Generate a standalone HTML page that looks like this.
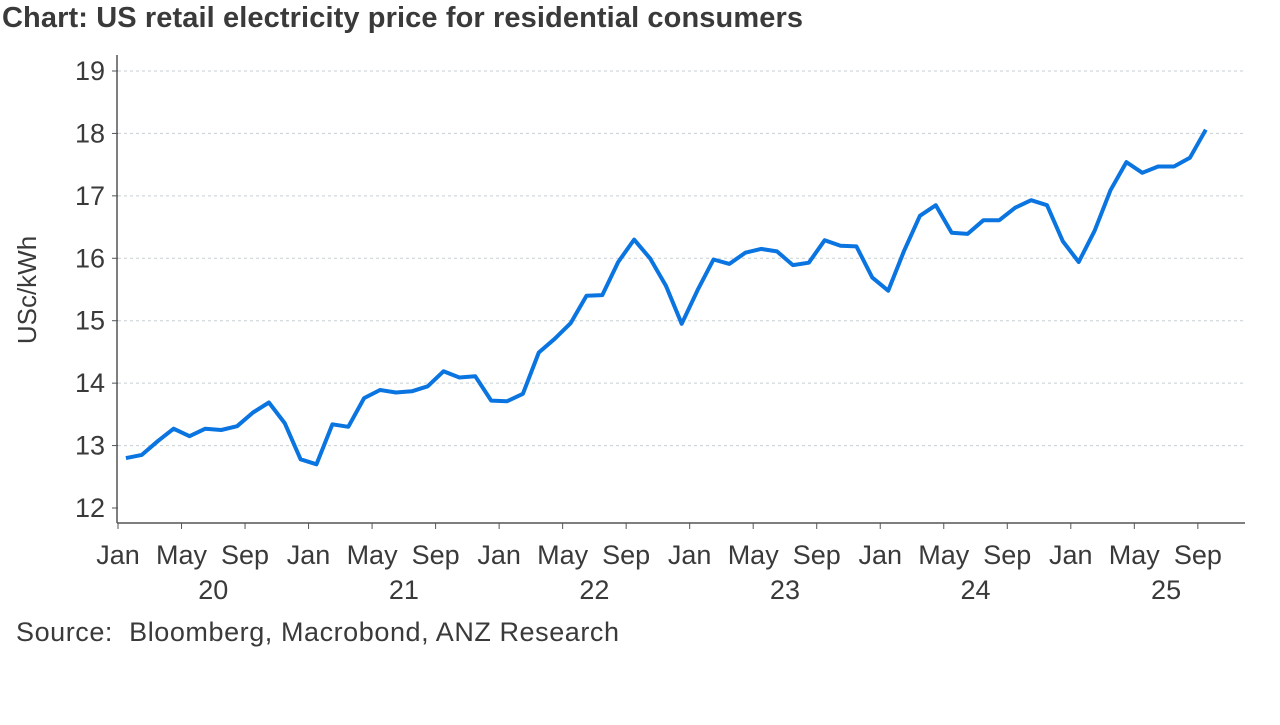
<!DOCTYPE html>
<html><head><meta charset="utf-8"><style>
body{margin:0;background:#fff;width:1280px;height:720px;overflow:hidden;font-family:"Liberation Sans",Arial,sans-serif}
</style></head><body>
<svg width="1280" height="720">
<text x="2" y="27" font-size="29" font-weight="bold" fill="#3a3a3a" textLength="801">Chart: US retail electricity price for residential consumers</text>
<g id="grid"></g><g id="axes"></g><g id="series"></g>
<text transform="translate(36,290) rotate(-90)" text-anchor="middle" font-size="26" fill="#3a3a3a">USc/kWh</text>
<text x="16" y="641" font-size="27" fill="#3a3a3a" textLength="603" style="white-space:pre">Source:  Bloomberg, Macrobond, ANZ Research</text>
</svg>
<script>
const years=["20","21","22","23","24","25"];
const monthLabels=["Jan","May","Sep"];
const yTicks=[12,13,14,15,16,17,18,19];
const values2020=[12.80,12.85,13.07,13.27,13.15,13.27,13.25,13.31,13.53,13.69,13.36,12.78];
const values2021=[12.70,13.34,13.30,13.76,13.89,13.85,13.87,13.95,14.19,14.09,14.11,13.72];
const values2022=[13.71,13.83,14.49,14.71,14.96,15.40,15.41,15.94,16.30,16.00,15.56,14.95];
const values2023=[15.49,15.98,15.91,16.09,16.15,16.11,15.89,15.93,16.29,16.20,16.19,15.69];
const values2024=[15.48,16.12,16.68,16.85,16.41,16.39,16.61,16.61,16.81,16.93,16.85,16.27];
const values2025=[15.94,16.44,17.09,17.54,17.37,17.47,17.47,17.61,18.06];
const values=[].concat(values2020,values2021,values2022,values2023,values2024,values2025);
const NS="http://www.w3.org/2000/svg";
const X0=118,MW=15.88,Y12=508,UNIT=62.43;
const x=m=>X0+MW*m;
const y=v=>Y12-(v-12)*UNIT;
function mk(t,a,p){const e=document.createElementNS(NS,t);for(const k in a)e.setAttribute(k,a[k]);p.appendChild(e);return e;}
const grid=document.getElementById('grid'),axes=document.getElementById('axes'),ser=document.getElementById('series');
yTicks.forEach(v=>{
 if(v>12){const l=mk('line',{x1:118,x2:1245,y1:y(v),y2:y(v),stroke:'#c8cfd4','stroke-dasharray':'3,3','stroke-width':1},grid);
 
 }
 mk('line',{x1:112,x2:118,y1:y(v),y2:y(v),stroke:'#555'},axes);
 const t=mk('text',{x:105,y:y(v)+9,'text-anchor':'end','font-size':27,fill:'#3a3a3a'},axes);t.textContent=v;
 
 
});
mk('line',{x1:117,x2:117,y1:55,y2:523,stroke:'#555','stroke-width':1.5},axes);
mk('line',{x1:117,x2:1245,y1:523,y2:523,stroke:'#555','stroke-width':1.5},axes);
years.forEach((yr,i)=>{
 for(let q=0;q<3;q++){const m=i*12+q*4;
  mk('line',{x1:x(m),x2:x(m),y1:523,y2:529,stroke:'#555'},axes);
  const t=mk('text',{x:x(m),y:564,'text-anchor':'middle','font-size':27,fill:'#3a3a3a'},axes);t.textContent=monthLabels[q];
  
  }
 const t=mk('text',{x:x(i*12+6),y:599,'text-anchor':'middle','font-size':27,fill:'#3a3a3a'},axes);t.textContent=yr;
 
 
});
const pts=values.map((v,i)=>x(i+0.5).toFixed(1)+','+y(v).toFixed(1)).join(' ');
const line=mk('polyline',{points:pts,fill:'none',stroke:'#0a74e0','stroke-width':4,'stroke-linejoin':'round'},ser);


</script>
</body></html>
